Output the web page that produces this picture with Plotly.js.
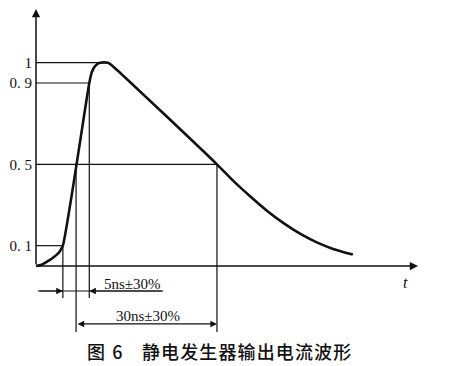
<!DOCTYPE html>
<html>
<head>
<meta charset="utf-8">
<script src="https://cdn.plot.ly/plotly-3.0.1.min.js"></script>
<style>html,body{margin:0;padding:0;background:#fff;}#chart{width:450px;height:366px;}</style>
</head>
<body>
<div id="chart"></div>
<script>
// Waveform (schematic time units, normalised current I)
const waveT = [0, 1.0, 1.9, 2.9, 3.6, 4.4, 5.0, 5.6, 11.1, 11.6, 12.3, 13.3, 15.0, 16.0, 37.7, 41.0, 44.6, 48.1, 51.5, 55.0, 58.5, 61.9, 66.0];
const waveI = [0, 0.005, 0.016, 0.03, 0.042, 0.057, 0.074, 0.1, 0.9, 0.952, 0.983, 1.0, 1.0, 0.983, 0.5, 0.421, 0.343, 0.272, 0.212, 0.159, 0.116, 0.084, 0.056];

// Reference levels and their crossing times
const levelValues = [0.1, 0.5, 0.9, 1];
const levelLabels = ['0. 1', '0. 5', '0. 9', '1'];
const levelEndT = [5.6, 37.7, 11.1, 14.2];

// Timing marks
const t10 = 5.6, t90 = 11.1, t50rise = 8.35, t50fall = 37.7;
const riseLabel = '5ns±30%';
const widthLabel = '30ns±30%';
const caption1 = '图\u2009\u20096';
const caption2 = ['静', '电', '发', '生', '器', '输', '出', '电', '流', '波', '形'].join('\u200A');

// Axis extents (schematic)
const tMax = 79.6, iMax = 1.264;
const dim1Y = -0.123, dim1Left = 0.4, dim1Right = 26.5, ext1Bottom = -0.157;
const dim2Y = -0.285, ext2Bottom = -0.325;

const black = '#111';
const shapes = [];
levelValues.forEach((v, i) => {
  shapes.push({type: 'line', xref: 'x', yref: 'y', x0: 0, x1: levelEndT[i], y0: v, y1: v, line: {color: black, width: 1.2}});
});
shapes.push({type: 'line', xref: 'x', yref: 'y', x0: t10, x1: t10, y0: 0.1, y1: ext1Bottom, line: {color: black, width: 1.2}});
shapes.push({type: 'line', xref: 'x', yref: 'y', x0: t90, x1: t90, y0: 0.9, y1: ext1Bottom, line: {color: black, width: 1.2}});
shapes.push({type: 'line', xref: 'x', yref: 'y', x0: t50rise, x1: t50rise, y0: 0.5, y1: ext2Bottom, line: {color: black, width: 1.2}});
shapes.push({type: 'line', xref: 'x', yref: 'y', x0: t50fall, x1: t50fall, y0: 0.5, y1: ext2Bottom, line: {color: black, width: 1.2}});
shapes.push({type: 'line', xref: 'x', yref: 'y', x0: dim1Left, x1: dim1Right, y0: dim1Y, y1: dim1Y, line: {color: black, width: 1.2}});

const arrow = (x, y, ax, ay, extra) => Object.assign({
  x: x, y: y, ax: ax, ay: ay, xref: 'x', yref: 'y', axref: 'x', ayref: 'y',
  text: '', showarrow: true, arrowhead: 2, arrowsize: 1.1, arrowwidth: 1.2, arrowcolor: black, standoff: 0, startstandoff: 0
}, extra || {});

const annotations = [
  arrow(0, iMax, 0, 0, {arrowwidth: 1.5}),
  arrow(tMax, 0, 0, 0, {arrowwidth: 1.5}),
  arrow(t10, dim1Y, dim1Left, dim1Y),
  arrow(t90, dim1Y, dim1Right, dim1Y),
  arrow(t50fall, dim2Y, t50rise, dim2Y, {arrowside: 'end+start'}),
  {x: 20.1, y: -0.089, xref: 'x', yref: 'y', text: riseLabel, showarrow: false,
   font: {family: 'Liberation Serif, serif', size: 15, color: black}},
  {x: 23.4, y: -0.246, xref: 'x', yref: 'y', text: widthLabel, showarrow: false,
   font: {family: 'Liberation Serif, serif', size: 15, color: black}},
  {x: -1.9, y: 1.21, xref: 'x', yref: 'y', text: '<i>I</i>', showarrow: false,
   font: {family: 'Liberation Serif, serif', size: 16, color: black}},
  {x: 76.9, y: -0.079, xref: 'x', yref: 'y', text: '<i>t</i>', showarrow: false,
   font: {family: 'Liberation Serif, serif', size: 16, color: black}},
  {x: 0.128, y: 0, xref: 'paper', yref: 'paper', xanchor: 'left', yanchor: 'middle', yshift: -11,
   text: caption1, showarrow: false, font: {family: 'Noto Sans CJK SC', size: 18, color: black, weight: 500}},
  {x: 0.271, y: 0, xref: 'paper', yref: 'paper', xanchor: 'left', yanchor: 'middle', yshift: -11,
   text: caption2, showarrow: false, font: {family: 'Noto Sans CJK SC', size: 18, color: black, weight: 500}}
];

const data = [{
  x: waveT, y: waveI, type: 'scatter', mode: 'lines',
  line: {color: black, width: 2.6, shape: 'spline', smoothing: 0.6},
  hoverinfo: 'skip', cliponaxis: false
}];

const layout = {
  width: 450, height: 366,
  margin: {l: 36, r: 30, t: 8, b: 26},
  paper_bgcolor: '#fff', plot_bgcolor: '#fff',
  showlegend: false,
  xaxis: {range: [0, 80], showgrid: false, zeroline: false, showline: false, showticklabels: false, ticks: ''},
  yaxis: {range: [-0.364, 1.269], showgrid: false, zeroline: false, showline: false, ticks: '',
          tickvals: levelValues, ticktext: levelLabels, ticklabelstandoff: 3,
          tickfont: {family: 'Liberation Serif, serif', size: 15, color: black}},
  shapes: shapes,
  annotations: annotations
};

Plotly.newPlot('chart', data, layout, {displayModeBar: false, staticPlot: true});
</script>
</body>
</html>
